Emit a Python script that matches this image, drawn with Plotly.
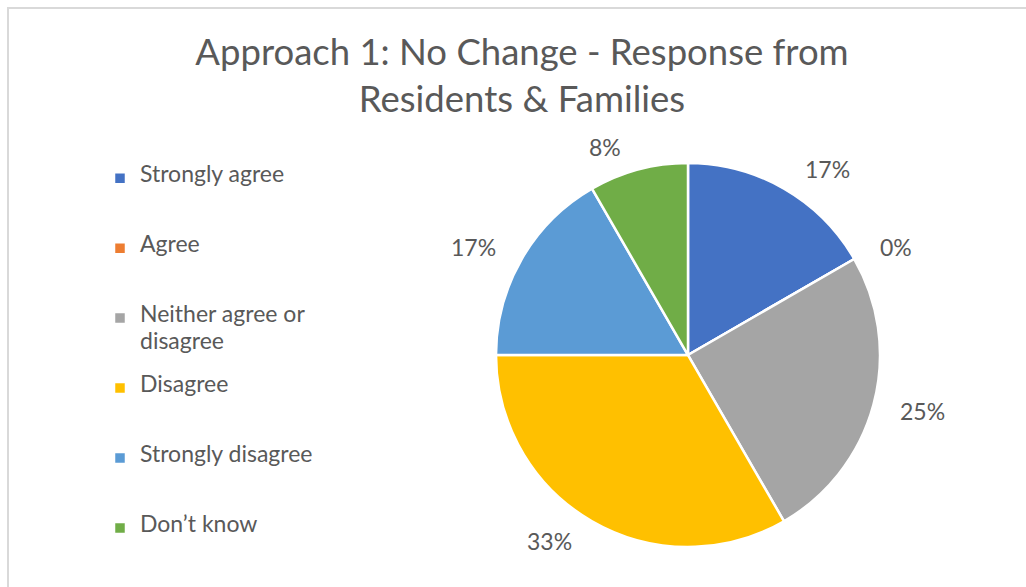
import math
import plotly.graph_objects as go

# ---- data ----
categories = ["Strongly agree", "Agree", "Neither agree or disagree",
              "Disagree", "Strongly disagree", "Don\u2019t know"]
responses = [2, 0, 3, 4, 2, 1]
colors = ["#4472C4", "#ED7D31", "#A5A5A5", "#FFC000", "#5B9BD5", "#70AD47"]
title_lines = ["Approach 1: No Change - Response from", "Residents & Families"]

# ---- layout constants ----
W, H = 1026, 587
FONT = "Lato"
TXT = "#595959"
PIE_CX, PIE_CY, PIE_R = 688, 355, 192        # pixels (y down)
LABEL_R = 205
LEG_F = 10.3                                   # legend base font (sets line pitch)
LEG_VIS = 23                                   # visible legend text size
NLINES = 5

dom_x = [(PIE_CX - PIE_R) / W, (PIE_CX + PIE_R) / W]
dom_y = [(H - PIE_CY - PIE_R) / H, (H - PIE_CY + PIE_R) / H]


def legend_label(name):
    # wrap long label like the original, pad every entry to NLINES lines
    if name == "Neither agree or disagree":
        parts = ["Neither agree or", "\u00a0", "disagree"]
    else:
        parts = [name]
    vis = ["<span style='font-size:%dpx'>%s</span>" % (LEG_VIS, p) if p != "\u00a0" else p
           for p in parts]
    while len(vis) < NLINES:
        vis.append("\u00a0")
    return "<br>".join(vis)


leg_labels = [legend_label(c) for c in categories]

fig = go.Figure()
fig.add_trace(go.Pie(
    labels=leg_labels,
    values=responses,
    sort=False,
    direction="clockwise",
    rotation=0,
    marker=dict(colors=colors, line=dict(color="white", width=2.5)),
    textinfo="none",
    hoverinfo="percent",
    domain=dict(x=dom_x, y=dom_y),
    showlegend=True,
))

# percentage labels placed outside each slice, from the data
total = sum(responses)
cum = 0
annotations = []
for v in responses:
    mid = (cum + v / 2) / total * 2 * math.pi
    cum += v
    s, c = math.sin(mid), math.cos(mid)
    px = PIE_CX + LABEL_R * s
    py = PIE_CY - LABEL_R * c
    pct = round(v / total * 100)
    annotations.append(dict(
        x=px / W, y=1 - py / H, xref="paper", yref="paper",
        text="%d%%" % pct, showarrow=False,
        xanchor="left" if s > 0 else "right",
        yanchor="middle",
        xshift=12 if s > 0 else -12,
        yshift=10 * c,
        font=dict(family=FONT, size=23, color=TXT),
    ))

fig.update_layout(
    width=W, height=H,
    margin=dict(l=0, r=0, t=0, b=0, autoexpand=False),
    paper_bgcolor="white",
    plot_bgcolor="white",
    font=dict(family=FONT, color=TXT),
    title=dict(
        text="<br>".join(title_lines),
        x=522 / W, xanchor="center",
        y=1 - 65 / H, yanchor="top", yref="container",
        font=dict(family=FONT, size=36.5, color=TXT),
    ),
    legend=dict(
        x=100 / W, xanchor="left",
        y=1 - 165 / H, yanchor="top",
        font=dict(family=FONT, size=LEG_F, color=TXT),
        valign="top",
        itemclick=False, itemdoubleclick=False,
        bgcolor="rgba(0,0,0,0)",
    ),
    annotations=annotations,
    shapes=[dict(
        type="rect", xref="paper", yref="paper",
        x0=8 / W, x1=(W + 10) / W, y0=-10 / H, y1=1 - 8 / H,
        line=dict(color="#D9D9D9", width=2), fillcolor="rgba(0,0,0,0)",
        layer="below",
    )],
)

fig.write_html("out.html", config={"displayModeBar": False},
               post_script="document.body.style.margin='0px';")
